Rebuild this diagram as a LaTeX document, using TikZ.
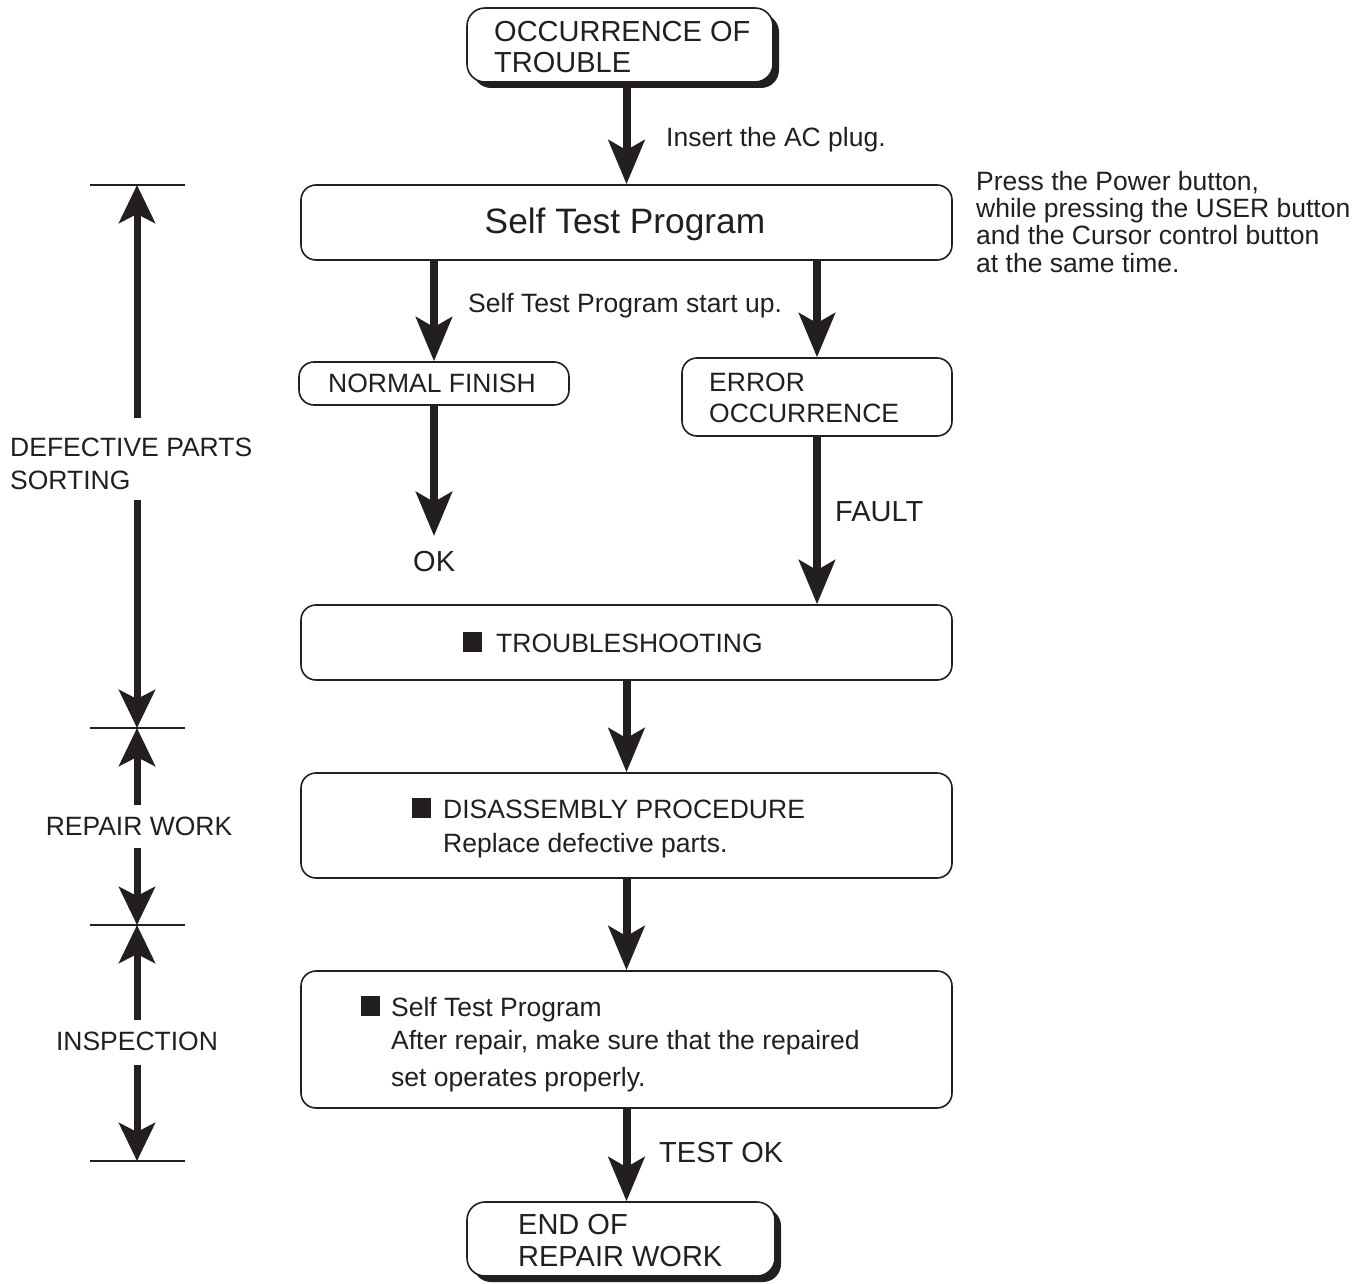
\documentclass[tikz,border=0pt]{standalone}
\usepackage{fontspec}
\setmainfont{Liberation Sans}
\usetikzlibrary{arrows.meta,shadows}
\definecolor{ink}{HTML}{231F20}
\newcommand\fa{\fontsize{26.5}{31}\selectfont}
\newcommand\fb{\fontsize{29}{31}\selectfont}
\newcommand\fc{\fontsize{35.3}{40}\selectfont}
\newcommand\sq{\rule{19pt}{20pt}}
\begin{document}
\begin{tikzpicture}[x=1pt,y=-1pt,
  box/.style={draw=ink, line width=1.6pt, rounded corners=15pt, fill=white, inner sep=0pt},
  shbox/.style={box, rounded corners=18pt, drop shadow={shadow xshift=6pt, shadow yshift=-6pt, opacity=1, fill=ink}},
  flow/.style={draw=ink, line width=8pt, -{Stealth[length=44pt,width=36pt,inset=10pt]}},
  sideflow/.style={draw=ink, line width=7pt, -{Stealth[length=38pt,width=36pt,inset=9pt]}},
  tick/.style={draw=ink, line width=1.6pt},
  ta/.style={font=\fa, text=ink, anchor=base west, inner sep=0pt},
  tb/.style={font=\fb, text=ink, anchor=base west, inner sep=0pt},
]
\useasboundingbox (0,0) rectangle (1367,1284);
% boxes
\node[shbox, minimum width=306pt, minimum height=74pt] (top) at (620,45) {};
\node[box, minimum width=651pt, minimum height=75pt] (stp) at (626.5,222.5) {};
\node[box, minimum width=270pt, minimum height=43pt] (nf) at (434,383.5) {};
\node[box, minimum width=270pt, minimum height=78pt] (err) at (817,397) {};
\node[box, minimum width=651pt, minimum height=75pt] (ts) at (626.5,642.5) {};
\node[box, minimum width=651pt, minimum height=105pt] (dis) at (626.5,825.5) {};
\node[box, minimum width=651pt, minimum height=137pt] (st2) at (626.5,1039.5) {};
\node[shbox, minimum width=308pt, minimum height=74pt] (end) at (621,1239) {};
% box texts
\node[tb] (topa) at (494,42) {OCCURRENCE OF};
\node[tb] (topb) at (494,73) {TROUBLE};
\node[font=\fc, text=ink, inner sep=0pt] (stpt) at (625,224) {Self Test Program};
\node[ta] (nft) at (328,392) {NORMAL FINISH};
\node[ta] (erra) at (709,391) {ERROR};
\node[ta] (errb) at (709,422) {OCCURRENCE};
\node[ta] (tst) at (463,652) {\sq\hspace{14pt}TROUBLESHOOTING};
\node[ta] (disa) at (412,818) {\sq\hspace{12pt}DISASSEMBLY PROCEDURE};
\node[ta] (disb) at (443,852) {Replace defective parts.};
\node[ta] (sta) at (361,1016) {\sq\hspace{11pt}Self Test Program};
\node[ta] (stb) at (391,1049) {After repair, make sure that the repaired};
\node[ta] (stc) at (391,1086) {set operates properly.};
\node[tb] (enda) at (518,1234) {END OF};
\node[tb] (endb) at (518,1266) {REPAIR WORK};
% labels
\node[ta] (lac) at (666,147) {Insert the AC plug.};
\node[ta] (lsu) at (468,312) {Self Test Program start up.};
\node[ta] (p1) at (976,190) {Press the Power button,};
\node[ta] (p2) at (976,217) {while pressing the USER button};
\node[ta] (p3) at (976,244) {and the Cursor control button};
\node[ta] (p4) at (976,272) {at the same time.};
\node[tb] (ok) at (413,571) {OK};
\node[tb] (fault) at (835,521) {FAULT};
\node[tb] (testok) at (659,1162) {TEST OK};
% flow arrows
\coordinate (okarr) at (432,536);
\draw[flow] (top.south -| stp.north) -- (stp.north);
\draw[flow] (stp.south -| nf.north) -- (nf.north);
\draw[flow] (stp.south -| err.north) -- (err.north);
\draw[flow] (nf.south) -- (nf.south |- okarr);
\draw[flow] (err.south) -- (err.south |- ts.north);
\draw[flow] (ts.south) -- (dis.north);
\draw[flow] (dis.south) -- (st2.north);
\draw[flow] (st2.south) -- (st2.south |- end.north);
% side scale
\coordinate (l1) at (90,185);  \coordinate (r1) at (185,185);
\coordinate (l2) at (90,728);  \coordinate (r2) at (185,728);
\coordinate (l3) at (90,925);  \coordinate (r3) at (185,925);
\coordinate (l4) at (90,1161); \coordinate (r4) at (185,1161);
\draw[tick] (l1) -- (r1);
\draw[tick] (l2) -- (r2);
\draw[tick] (l3) -- (r3);
\draw[tick] (l4) -- (r4);
\coordinate (m1) at (137,185);
\coordinate (m2) at (137,728);
\coordinate (m3) at (137,925);
\coordinate (m4) at (137,1161);
\node[ta] (dpa) at (10,456) {DEFECTIVE PARTS};
\node[ta] (dpb) at (10,489) {SORTING};
\node[font=\fa, text=ink, anchor=base, inner sep=0pt] (rw) at (139,835) {REPAIR WORK};
\node[font=\fa, text=ink, anchor=base, inner sep=0pt] (insp) at (137,1050) {INSPECTION};
\coordinate (a1s) at (137,418); \coordinate (a1e) at (137,500);
\coordinate (a2s) at (137,805); \coordinate (a2e) at (137,848);
\coordinate (a3s) at (137,1020); \coordinate (a3e) at (137,1065);
\draw[sideflow] (a1s) -- (m1);
\draw[sideflow] (a1e) -- (m2);
\draw[sideflow] (a2s) -- (m2);
\draw[sideflow] (a2e) -- (m3);
\draw[sideflow] (a3s) -- (m3);
\draw[sideflow] (a3e) -- (m4);
\end{tikzpicture}
\end{document}
